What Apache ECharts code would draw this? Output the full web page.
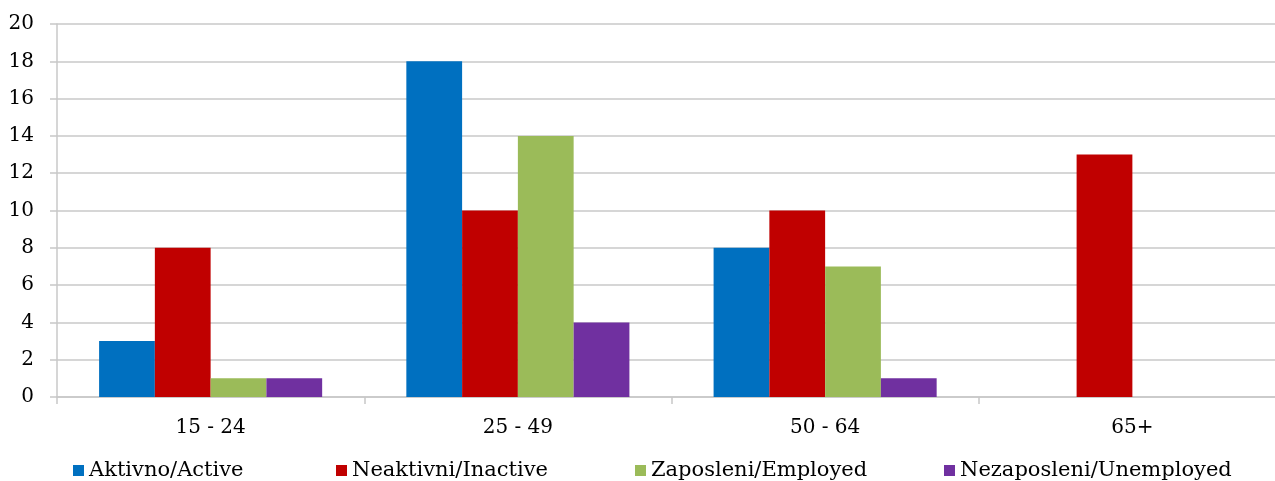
<!DOCTYPE html>
<html><head><meta charset="utf-8">
<script src="https://cdn.jsdelivr.net/npm/echarts@6/dist/echarts.min.js"></script>
<style>html,body{margin:0;padding:0;background:#fff}#c{width:1275px;height:481px}</style>
</head><body><div id="c"></div>
<script>
const categories = ['15 - 24', '25 - 49', '50 - 64', '65+'];
const seriesNames = ['Aktivno/Active', 'Neaktivni/Inactive', 'Zaposleni/Employed', 'Nezaposleni/Unemployed'];
const active = [3, 18, 8, 0];
const inactive = [8, 10, 10, 13];
const employed = [1, 14, 7, 0];
const unemployed = [1, 4, 1, 0];
const colors = ['#0070C0', '#C00000', '#9BBB59', '#7030A0'];
const yTicks = { min: 0, max: 20, interval: 2 };

const font = 'DejaVu Serif';
const values = [active, inactive, employed, unemployed];
const legendLeft = [68, 331, 630, 939];
const chart = echarts.init(document.getElementById('c'));
chart.setOption({
  animation: false,
  textStyle: { fontFamily: font },
  grid: { left: 57, top: 24, width: 1229, height: 373, containLabel: false, outerBoundsMode: 'none' },
  legend: seriesNames.map((n, i) => ({
    data: [n], left: legendLeft[i], top: 455, icon: 'rect', itemWidth: 11, itemHeight: 11, itemGap: 7,
    textStyle: { fontFamily: font, fontSize: 21, color: '#000' }
  })),
  xAxis: {
    type: 'category', data: categories,
    axisLine: { lineStyle: { color: '#c8c8c8', width: 1.5 } },
    axisTick: { show: true, length: 7, lineStyle: { color: '#c8c8c8', width: 1.5 } },
    axisLabel: { fontFamily: font, fontSize: 20, color: '#000', margin: 21 }
  },
  yAxis: {
    type: 'value', min: yTicks.min, max: yTicks.max, interval: yTicks.interval,
    axisLine: { show: true, lineStyle: { color: '#c8c8c8', width: 1.5 } },
    axisTick: { show: true, length: 7, lineStyle: { color: '#c8c8c8', width: 1.5 } },
    splitLine: { lineStyle: { color: '#c8c8c8', width: 1.5 } },
    axisLabel: { fontFamily: font, fontSize: 20, color: '#000', margin: 23 }
  },
  series: seriesNames.map((n, i) => ({
    name: n, type: 'bar', data: values[i].map(v => v === 0 ? null : v),
    itemStyle: { color: colors[i] }, barGap: '0%', barCategoryGap: '27.4%'
  }))
});
</script></body></html>
